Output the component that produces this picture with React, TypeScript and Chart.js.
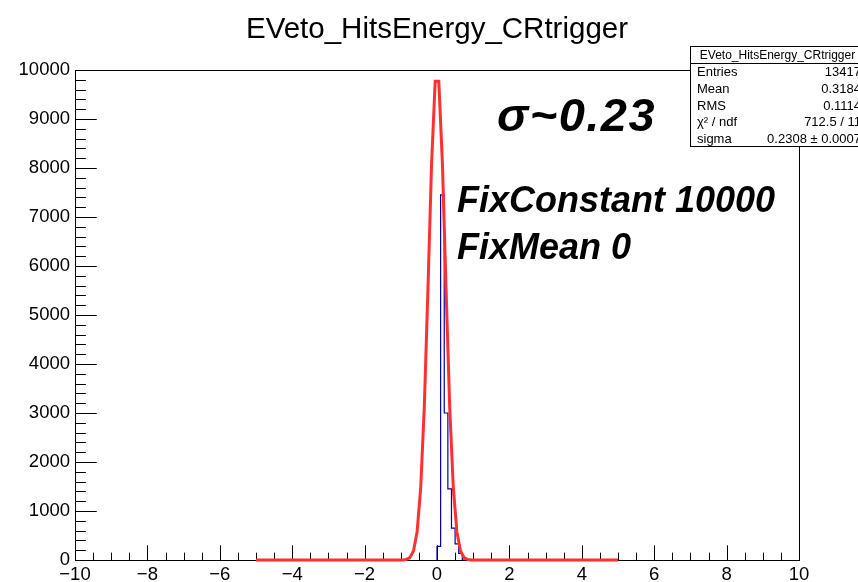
import React, { useEffect, useRef } from "react";
import { Chart, registerables } from "chart.js";

Chart.register(...registerables);

// ---------- DATA ----------
const chartTitle = "EVeto_HitsEnergy_CRtrigger";

// histogram bins (low edges + last upper edge) and counts
const binEdges = [0.0, 0.1, 0.2, 0.3, 0.4, 0.5, 0.6, 0.7, 0.8];
const binCounts = [120, 280, 7450, 3000, 1450, 650, 330, 137];

// gaussian fit curve as drawn
const fitX = [-5, -0.95, -0.85, -0.75, -0.65, -0.55, -0.45, -0.35, -0.25, -0.15, -0.05,
  0.05, 0.15, 0.25, 0.35, 0.45, 0.55, 0.65, 0.75, 0.85, 0.95, 5];
const fitY = [0, 2, 11, 49, 184, 573, 1475, 3140, 5540, 8083, 9770,
  9770, 8083, 5540, 3140, 1475, 573, 184, 49, 11, 2, 0];

const xTickValues = [-10, -8, -6, -4, -2, 0, 2, 4, 6, 8, 10];
const yTickValues = [0, 1000, 2000, 3000, 4000, 5000, 6000, 7000, 8000, 9000, 10000];

const statsTitle = "EVeto_HitsEnergy_CRtrigger";
const statsLabels = ["Entries", "Mean", "RMS", "χ² / ndf", "sigma"];
const statsValues = ["13417", "0.3184", "0.1114", "712.5 / 11", "0.2308 ± 0.0007"];

const sigmaNote = "σ~0.23";
const fixNotes = ["FixConstant 10000", "FixMean 0"];

const FONT = "'Liberation Sans', Arial, Helvetica, sans-serif";

export default function App() {
  const ref = useRef<HTMLCanvasElement | null>(null);

  useEffect(() => {
    const canvas = ref.current;
    if (!canvas) return;

    const histData: { x: number; y: number }[] = [{ x: binEdges[0], y: 0 }];
    binCounts.forEach((c, i) => histData.push({ x: binEdges[i], y: c }));
    histData.push({ x: binEdges[binEdges.length - 1], y: 0 });

    const fitData = fitX.map((x, i) => ({ x, y: fitY[i] }));

    const framePlugin = {
      id: "rootFrame",
      beforeDatasetsDraw(chart: any) {
        const ctx = chart.ctx;
        const { left, right, top, bottom } = chart.chartArea;
        const xs = chart.scales.x;
        const ys = chart.scales.y;
        ctx.save();
        ctx.strokeStyle = "#000";
        ctx.lineWidth = 1;
        ctx.strokeRect(Math.round(left) + 0.5, Math.round(top) + 0.5, Math.round(right - left), Math.round(bottom - top));
        const h = bottom - top;
        const w = right - left;
        const xMaj = 0.03 * h;
        const yMaj = 0.03 * w;
        ctx.beginPath();
        for (let v = -10; v <= 10.0001; v += 0.5) {
          const px = Math.round(xs.getPixelForValue(v)) + 0.5;
          const isMaj = xTickValues.some((t) => Math.abs(t - v) < 1e-6);
          const len = isMaj ? xMaj : xMaj / 2;
          ctx.moveTo(px, bottom);
          ctx.lineTo(px, bottom - len);
        }
        for (let v = 0; v <= 10000.001; v += 200) {
          const py = Math.round(ys.getPixelForValue(v)) + 0.5;
          const isMaj = yTickValues.some((t) => Math.abs(t - v) < 1e-6);
          const len = isMaj ? yMaj : yMaj / 2;
          ctx.moveTo(left, py);
          ctx.lineTo(left + len, py);
        }
        ctx.stroke();
        ctx.restore();
      },
      afterDraw(chart: any) {
        const ctx = chart.ctx;
        ctx.save();
        // title
        ctx.fillStyle = "#000";
        ctx.font = `29.5px ${FONT}`;
        ctx.textAlign = "center";
        ctx.textBaseline = "alphabetic";
        ctx.fillText(chartTitle, 437, 38);

        // stats box
        const bx = 690.5, by = 46.5, bw = 180, bh = 100;
        ctx.fillStyle = "#fff";
        ctx.fillRect(bx, by, bw, bh);
        ctx.strokeStyle = "#000";
        ctx.lineWidth = 1;
        ctx.strokeRect(bx, by, bw, bh);
        const titleH = 17;
        ctx.beginPath();
        ctx.moveTo(bx, by + titleH);
        ctx.lineTo(bx + bw, by + titleH);
        ctx.stroke();
        ctx.fillStyle = "#000";
        ctx.font = `12px ${FONT}`;
        ctx.textAlign = "center";
        ctx.textBaseline = "middle";
        ctx.fillText(statsTitle, bx + bw / 2 - 3, by + titleH / 2 + 1);
        const rowH = (bh - titleH) / statsLabels.length;
        ctx.font = `13px ${FONT}`;
        statsLabels.forEach((lab, i) => {
          const cy = by + titleH + rowH * (i + 0.5) + 1;
          ctx.textAlign = "left";
          ctx.fillText(lab, 697, cy);
          ctx.textAlign = "right";
          ctx.fillText(statsValues[i], 861, cy);
        });

        // annotations
        ctx.textAlign = "left";
        ctx.textBaseline = "alphabetic";
        ctx.font = `italic bold 47px ${FONT}`;
        try { (ctx as any).letterSpacing = "1.5px"; } catch (e) {}
        ctx.fillText(sigmaNote, 497, 131);
        try { (ctx as any).letterSpacing = "0px"; } catch (e) {}
        ctx.font = `italic bold 36px ${FONT}`;
        ctx.fillText(fixNotes[0], 457, 212);
        ctx.fillText(fixNotes[1], 457, 259);
        ctx.restore();
      },
    };

    const chart = new Chart(canvas, {
      type: "line",
      data: {
        datasets: [
          {
            label: "fit",
            data: fitData,
            borderColor: "#ff3030",
            borderWidth: 3,
            pointRadius: 0,
            fill: false,
            tension: 0,
            clip: false as any,
            order: 0,
          },
          {
            label: "hist",
            data: histData,
            borderColor: "#0000a8",
            borderWidth: 1.2,
            pointRadius: 0,
            fill: false,
            stepped: "after",
            clip: false as any,
            order: 1,
          },
        ],
      },
      options: {
        responsive: false,
        animation: false,
        devicePixelRatio: 1,
        layout: { padding: { top: 70, right: 59, left: 0, bottom: 0 } },
        plugins: {
          legend: { display: false },
          tooltip: { enabled: false },
          title: { display: false },
        },
        scales: {
          x: {
            type: "linear",
            min: -10,
            max: 10,
            afterFit: (s: any) => {
              s.height = 22;
            },
            afterBuildTicks: (s: any) => {
              s.ticks = xTickValues.map((v) => ({ value: v }));
            },
            grid: { display: false, drawTicks: false },
            border: { display: false },
            ticks: {
              autoSkip: false,
              maxRotation: 0,
              padding: 4,
              color: "#000",
              font: { family: FONT, size: 18.5 },
              callback: (v: any) => (Number(v) < 0 ? "\u2212" + Math.abs(Number(v)) : String(v)),
            },
          },
          y: {
            type: "linear",
            min: 0,
            max: 10000,
            afterFit: (s: any) => {
              s.width = 75;
            },
            afterBuildTicks: (s: any) => {
              s.ticks = yTickValues.map((v) => ({ value: v }));
            },
            grid: { display: false, drawTicks: false },
            border: { display: false },
            ticks: {
              autoSkip: false,
              padding: 5,
              color: "#000",
              font: { family: FONT, size: 18.5 },
              callback: (v: any) => String(v),
            },
          },
        },
      },
      plugins: [framePlugin],
    });

    return () => chart.destroy();
  }, []);

  return (
    <div style={{ position: "fixed", left: 0, top: 0, width: 858, height: 582, background: "#fff" }}>
      <canvas ref={ref} width={858} height={582} style={{ width: 858, height: 582, display: "block" }} />
    </div>
  );
}
